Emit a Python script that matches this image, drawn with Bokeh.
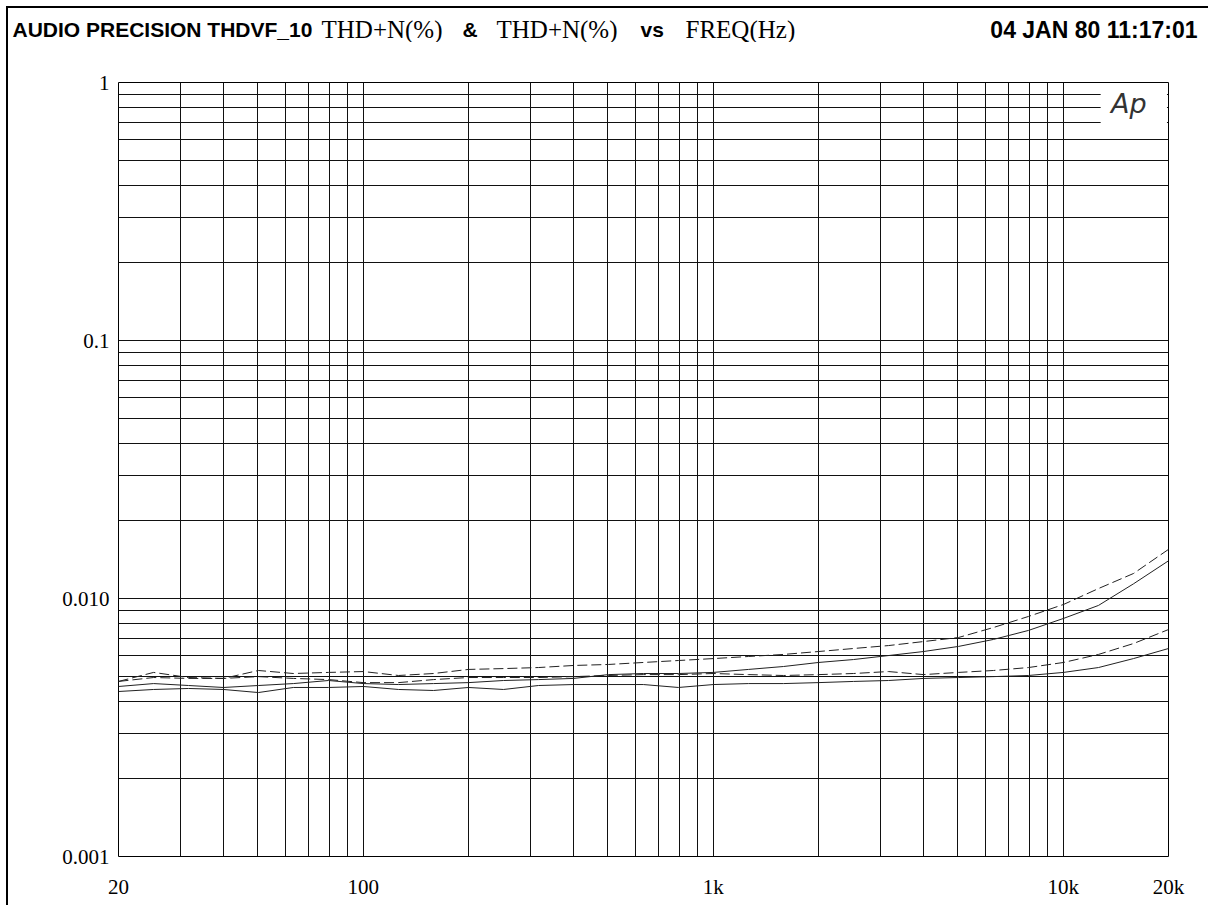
from bokeh.plotting import figure
from bokeh.models import (FixedTicker, CustomJSTickFormatter, Label, BoxAnnotation,
                          ColumnDataSource, Range1d)
from bokeh.embed import file_html
from bokeh.resources import INLINE
from bokeh.core.properties import value

# ---------------- data ----------------
freq_hz = [20, 25.2, 31.7, 39.9, 50.2, 63.2, 79.6, 100.2, 126.2, 158.9, 200,
           251.8, 317, 399, 502, 632, 796, 1002, 1262, 1589, 2000, 2518, 3170,
           3991, 5024, 6325, 7962, 10024, 12619, 15887, 20000]

thd_a_dashed_upper = [0.00477, 0.00517, 0.00494, 0.00490, 0.00526, 0.00512, 0.00517,
                      0.00521, 0.00503, 0.00512, 0.00531, 0.00535, 0.00540, 0.00550,
                      0.00555, 0.00565, 0.00575, 0.00585, 0.00596, 0.00607, 0.00623,
                      0.00640, 0.00657, 0.00681, 0.00706, 0.00772, 0.00852, 0.00948,
                      0.01093, 0.0125, 0.0155]
thd_b_solid_upper = [0.00456, 0.00468, 0.00460, 0.00452, 0.00460, 0.00468, 0.00481,
                     0.00468, 0.00464, 0.00468, 0.00472, 0.00481, 0.00485, 0.00490,
                     0.00507, 0.00512, 0.00512, 0.00517, 0.00531, 0.00545, 0.00565,
                     0.00580, 0.00601, 0.00623, 0.00652, 0.00694, 0.00752, 0.00837,
                     0.00940, 0.0114, 0.0140]
thd_c_dashed_lower = [0.00477, 0.00494, 0.00490, 0.00490, 0.00498, 0.00490, 0.00485,
                      0.00472, 0.00472, 0.00485, 0.00494, 0.00494, 0.00494, 0.00498,
                      0.00503, 0.00507, 0.00507, 0.00512, 0.00507, 0.00503, 0.00507,
                      0.00512, 0.00521, 0.00507, 0.00517, 0.00526, 0.00540, 0.00565,
                      0.00607, 0.00669, 0.00758]
thd_d_solid_lower = [0.00436, 0.00444, 0.00448, 0.00444, 0.00432, 0.00452, 0.00452,
                     0.00456, 0.00444, 0.00440, 0.00452, 0.00444, 0.00460, 0.00464,
                     0.00464, 0.00464, 0.00452, 0.00464, 0.00468, 0.00468, 0.00472,
                     0.00477, 0.00481, 0.00490, 0.00494, 0.00498, 0.00503, 0.00517,
                     0.00540, 0.00585, 0.00640]

x_tick_values = [20, 100, 1000, 10000, 20000]
x_tick_labels = ["20", "100", "1k", "10k", "20k"]
y_tick_values = [0.001, 0.01, 0.1, 1]
y_tick_labels = ["0.001", "0.010", "0.1", "1"]

x_grid_values = [m * 10 ** e for e in range(1, 5) for m in range(1, 10)
                 if 20 <= m * 10 ** e <= 20000]
y_grid_values = [round(m * 10.0 ** e, 6) for e in range(-3, 1) for m in range(1, 10)
                 if m * 10.0 ** e <= 1.0]

title_sans_texts = ["AUDIO PRECISION THDVF_10", "&", "vs"]
title_serif_texts = ["THD+N(%)", "THD+N(%)", "FREQ(Hz)"]
title_date = "04 JAN 80 11:17:01"

# layout positions of the title pieces (pixels)
title_sans_x = [12, 462, 640]
title_serif_x = [321, 496, 685]
title_date_x = 1197
TITLE_H = 42
TITLE_BASELINE = 29

SANS = "Liberation Sans"
SERIF = "Liberation Serif"

# ---------------- title strip (own root, so no frame alignment) ----------------
t = figure(x_range=Range1d(0, 1208), y_range=Range1d(TITLE_H, 0),
           frame_width=1208, frame_height=TITLE_H, min_border=0,
           output_backend="svg", toolbar_location=None)
t.axis.visible = False
t.grid.visible = False
t.outline_line_color = None
t.background_fill_color = None
t.border_fill_color = None
t.styles = {"box-shadow": "inset 6px 6px 0 0 #ffffff, inset 8px 8px 0 0 #000000"}
t.text(x=title_sans_x, y=[TITLE_BASELINE] * 3, text=title_sans_texts,
       text_font=value(SANS), text_font_style="bold", text_font_size="21px",
       text_baseline="alphabetic", text_align="left", text_color="black")
t.text(x=title_serif_x, y=[TITLE_BASELINE] * 3, text=title_serif_texts,
       text_font=value(SERIF), text_font_size="25px",
       text_baseline="alphabetic", text_align="left", text_color="black")
t.text(x=[title_date_x], y=[TITLE_BASELINE], text=[title_date], text_align="right",
       text_font=value(SANS), text_font_style="bold", text_font_size="23px",
       text_baseline="alphabetic", text_color="black")

# ---------------- main chart ----------------
p = figure(x_axis_type="log", y_axis_type="log",
           x_range=(20, 20000), y_range=(0.001, 1),
           frame_width=1050, frame_height=774,
           min_border_left=118, min_border_right=40,
           min_border_top=82 - TITLE_H, min_border_bottom=49,
           output_backend="svg", toolbar_location=None)
p.styles = {"box-shadow": "inset 6px 0 0 0 #ffffff, inset 8px 0 0 0 #000000"}
p.background_fill_color = "white"
p.border_fill_color = None
p.outline_line_color = "black"
p.outline_line_width = 1

fmt_code = ("const i = vals.findIndex(v => Math.abs(Math.log10(v / tick)) < 1e-6);"
            "return i >= 0 ? labs[i] : '';")

p.xaxis.ticker = FixedTicker(ticks=x_tick_values, minor_ticks=[])
p.xaxis.formatter = CustomJSTickFormatter(args=dict(vals=x_tick_values, labs=x_tick_labels),
                                          code=fmt_code)
p.yaxis.ticker = FixedTicker(ticks=y_tick_values, minor_ticks=[])
p.yaxis.formatter = CustomJSTickFormatter(args=dict(vals=y_tick_values, labs=y_tick_labels),
                                          code=fmt_code)
for ax in (p.xaxis, p.yaxis):
    ax.axis_line_color = None
    ax.major_tick_line_color = None
    ax.minor_tick_line_color = None
    ax.major_label_text_font = SERIF
    ax.major_label_text_font_size = "21px"
    ax.major_label_text_color = "black"
p.xaxis.major_label_standoff = 12
p.yaxis.major_label_standoff = 3

p.xgrid.ticker = FixedTicker(ticks=x_grid_values)
p.ygrid.ticker = FixedTicker(ticks=y_grid_values)
for g in (p.xgrid, p.ygrid):
    g.grid_line_color = "#111111"
    g.grid_line_width = 1
    g.grid_line_alpha = 1.0

src = ColumnDataSource(dict(freq=freq_hz, a=thd_a_dashed_upper, b=thd_b_solid_upper,
                            c=thd_c_dashed_lower, d=thd_d_solid_lower))
p.line("freq", "a", source=src, line_color="#222222", line_width=1, line_dash="10 4")
p.line("freq", "b", source=src, line_color="#222222", line_width=1)
p.line("freq", "c", source=src, line_color="#222222", line_width=1, line_dash="10 4")
p.line("freq", "d", source=src, line_color="#222222", line_width=1)

# Ap logo area
p.add_layout(BoxAnnotation(left=12800, right=19800, bottom=0.65, top=0.99,
                           fill_color="white", fill_alpha=1.0, line_color=None))
p.add_layout(Label(x=13700, y=0.72, text="Ap", text_font="DejaVu Sans",
                   text_font_style="italic", text_font_size="27px", text_color="#333333"))

open("out.html", "w").write(file_html([t, p], INLINE))
